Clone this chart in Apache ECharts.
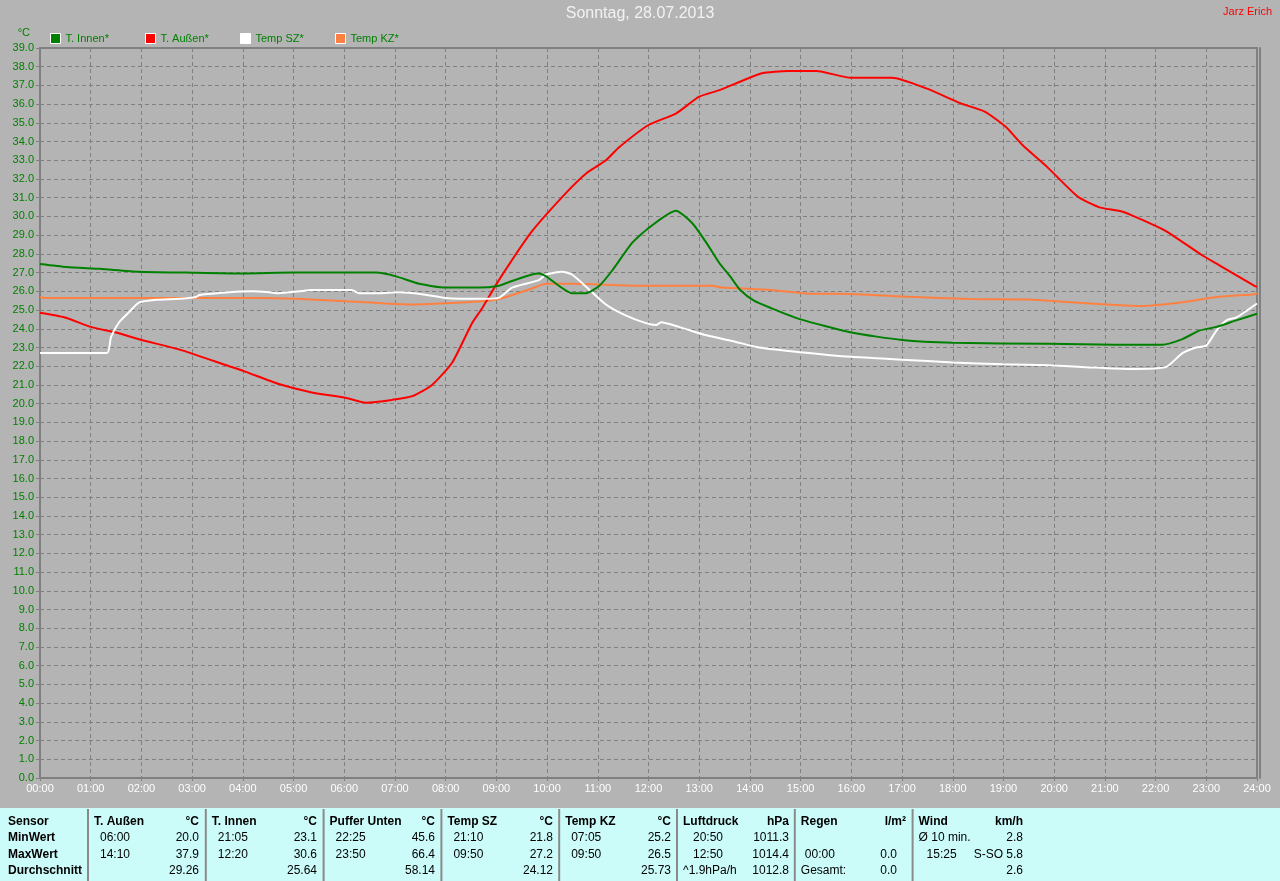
<!DOCTYPE html>
<html>
<head>
<meta charset="utf-8">
<script src="https://cdn.jsdelivr.net/npm/echarts@6/dist/echarts.min.js"></script>
<style>
html,body{margin:0;padding:0;background:#b4b4b4;}
#chart{width:1280px;height:881px;}
</style>
</head>
<body>
<div id="chart"></div>
<script>
// ---- chart data (hours of day, °C) ----
const seriesNames = ['T. Innen*', 'T. Außen*', 'Temp SZ*', 'Temp KZ*'];
const seriesColors = ['#008000', '#ff0000', '#ffffff', '#ff8040'];

const innenTimes = [0,0.52,1.18,1.95,2.88,4.0,5.0,6.63,7.02,7.48,8.0,8.66,9.05,9.25,9.70,9.84,9.98,10.49,10.77,11.03,11.28,11.68,12.01,12.54,12.86,13.14,13.4,13.61,13.81,14.08,14.42,15,16,17,18,19.9,21.2,22.13,22.53,22.86,23.2,23.59,24];
const innenTemps = [27.46,27.3,27.2,27.05,27.0,26.95,27.0,27.0,26.8,26.4,26.2,26.2,26.3,26.5,26.9,26.95,26.8,25.9,25.9,26.3,27.1,28.6,29.4,30.3,29.65,28.6,27.5,26.8,26.07,25.5,25.1,24.5,23.8,23.4,23.25,23.2,23.15,23.15,23.45,23.9,24.1,24.45,24.8];

const aussenTimes = [0,0.49,1,1.5,2,2.74,3.73,4.06,4.71,5.36,6.04,6.43,6.94,7.34,7.73,8.13,8.52,8.72,9.05,9.70,10.37,10.77,11.16,11.42,12.01,12.54,13.0,13.4,14.22,14.76,15.31,15.99,16.8,17.48,18.16,18.63,19.04,19.38,19.86,20.47,20.88,21.35,21.89,22.23,22.91,23.25,23.96,24];
const aussenTemps = [24.85,24.6,24.1,23.8,23.4,22.9,22.0,21.7,21.05,20.6,20.3,20.05,20.2,20.4,21.0,22.2,24.3,25.1,26.6,29.2,31.25,32.3,33.0,33.7,34.9,35.5,36.4,36.75,37.64,37.77,37.77,37.41,37.41,36.84,36.04,35.6,34.8,33.8,32.65,31.05,30.5,30.25,29.63,29.18,27.94,27.4,26.28,26.25];

const szTimes = [0,1.32,1.40,1.56,1.76,1.95,2.29,2.74,3.08,3.14,3.73,4.18,4.52,4.71,5.11,5.36,6.15,6.29,6.69,7.08,7.53,8.0,8.66,9.05,9.31,9.84,9.98,10.3,10.49,10.77,11.16,11.56,11.95,12.15,12.25,12.6,13.14,13.65,14.18,15,16,17,18,19,19.9,20.63,21.48,22.2,22.53,22.80,23.0,23.2,23.4,23.59,23.71,24];
const szTemps = [22.7,22.7,23.55,24.35,24.9,25.4,25.55,25.6,25.7,25.8,25.95,26.0,25.95,25.9,26.0,26.07,26.07,25.9,25.9,25.95,25.85,25.65,25.6,25.65,26.2,26.6,26.9,27.05,26.9,26.25,25.3,24.7,24.3,24.2,24.35,24.1,23.65,23.35,23.0,22.75,22.5,22.35,22.2,22.1,22.05,21.95,21.85,21.95,22.7,23.0,23.1,23.9,24.45,24.6,24.8,25.35];

const kzTimes = [0,0.1,2.94,4.38,5.05,6.23,6.82,7.34,7.87,8.86,9.19,9.70,9.98,10.49,11.81,13.25,13.45,14.42,15.1,16.12,17.14,18.36,19.52,20.19,21.21,21.69,22.37,23.25,23.96,24];
const kzTemps = [25.7,25.65,25.65,25.65,25.6,25.45,25.35,25.3,25.35,25.5,25.7,26.15,26.4,26.4,26.3,26.3,26.2,26.07,25.89,25.85,25.71,25.59,25.57,25.44,25.27,25.21,25.36,25.71,25.85,25.9];

// ---- statistics table ----
const rowLabels = ['Sensor', 'MinWert', 'MaxWert', 'Durchschnitt'];
const colHeads  = ['T. Außen', 'T. Innen', 'Puffer Unten', 'Temp SZ', 'Temp KZ', 'Luftdruck', 'Regen', 'Wind'];
const colUnits  = ['°C', '°C', '°C', '°C', '°C', 'hPa', 'l/m²', 'km/h'];
const minLabels = ['06:00', '21:05', '22:25', '21:10', '07:05', '20:50', '', 'Ø 10 min.'];
const minValues = ['20.0', '23.1', '45.6', '21.8', '25.2', '1011.3', '', '2.8'];
const maxLabels = ['14:10', '12:20', '23:50', '09:50', '09:50', '12:50', '00:00', '15:25'];
const maxValues = ['37.9', '30.6', '66.4', '27.2', '26.5', '1014.4', '0.0', 'S-SO 5.8'];
const avgLabels = ['', '', '', '', '', '^1.9hPa/h', 'Gesamt:', ''];
const avgValues = ['29.26', '25.64', '58.14', '24.12', '25.73', '1012.8', '0.0', '2.6'];

const FONT = '"Liberation Sans", Arial, sans-serif';
const pair = (ts, vs) => ts.map((t, i) => [t, vs[i]]);
const seriesData = [pair(innenTimes, innenTemps), pair(aussenTimes, aussenTemps), pair(szTimes, szTemps), pair(kzTimes, kzTemps)];

// table graphics
const tableEls = [];
tableEls.push({type:'rect', shape:{x:0, y:808, width:1280, height:73}, style:{fill:'#ccfcfa'}, silent:true});
const divX = colHeads.map((_, i) => 88 + i * 117.8);
const rowY = [822, 838, 855, 871];
divX.forEach(x => {
  tableEls.push({type:'line', shape:{x1:x, y1:809, x2:x, y2:881}, style:{stroke:'#8a8a8a', lineWidth:2}, silent:true});
});
const txt = (x, y, s, bold, align) => ({type:'text', x:x, y:y, silent:true,
  style:{text:s, fill:'#000', font:(bold ? 'bold ' : '') + '12px ' + FONT, textAlign:align || 'left', textVerticalAlign:'middle'}});
rowLabels.forEach((s, r) => tableEls.push(txt(8, rowY[r], s, true)));
const timeOff = [12, 12, 12, 12, 12, 16, 10, 14];
const rightEdge = [199, 317, 435, 553, 671, 789, 897, 1023];
const unitRight = [199, 317, 435, 553, 671, 789, 906, 1023];
colHeads.forEach((h, i) => {
  const d = divX[i];
  const lx = s => /^\d\d:\d\d$/.test(s) ? d + timeOff[i] : d + 6;
  tableEls.push(txt(d + 6, rowY[0], h, true));
  tableEls.push(txt(unitRight[i], rowY[0], colUnits[i], true, 'right'));
  [[minLabels, minValues], [maxLabels, maxValues], [avgLabels, avgValues]].forEach((p, k) => {
    const L = p[0][i], V = p[1][i];
    if (L) tableEls.push(txt(lx(L), rowY[k + 1], L, false));
    if (V) tableEls.push(txt(rightEdge[i], rowY[k + 1], V, false, 'right'));
  });
});

const chart = echarts.init(document.getElementById('chart'), null, {renderer:'canvas'});
const gridLine = {show:true, lineStyle:{color:'#808080', type:[4, 3], width:1}};
const option = {
  backgroundColor:'#b4b4b4',
  animation:false,
  title:[
    {text:'Sonntag, 28.07.2013', left:'center', top:6, padding:0,
     textStyle:{color:'#f2f2f2', fontSize:16, fontWeight:'normal', fontFamily:FONT}},
    {text:'Jarz Erich', right:8, top:6, padding:0,
     textStyle:{color:'#ff0000', fontSize:11, fontWeight:'normal', fontFamily:FONT}}
  ],
  legend: seriesNames.map((n, i) => ({
    data:[n], left:50 + 95 * i, top:33, padding:0, itemWidth:10, itemHeight:10, itemGap:0,
    icon:'rect', selectedMode:false,
    itemStyle:{borderColor:'#ffffff', borderWidth:1},
    textStyle:{color:'#008000', fontSize:11, fontFamily:FONT}
  })),
  grid:{left:40, right:23, top:48, bottom:103, show:true, borderColor:'#808080', borderWidth:2, backgroundColor:'transparent'},
  xAxis:{
    type:'value', min:0, max:24, interval:1,
    axisLine:{show:true, lineStyle:{color:'#808080', width:2}},
    axisTick:{show:true, length:3, lineStyle:{color:'#808080'}},
    axisLabel:{color:'#ffffff', fontSize:11, fontFamily:FONT, margin:5,
      formatter:v => String(v).padStart(2, '0') + ':00'},
    splitLine:gridLine
  },
  yAxis:[{
    type:'value', min:0, max:39, interval:1,
    name:'°C', nameLocation:'end', nameGap:10,
    nameTextStyle:{color:'#008000', fontSize:11, fontFamily:FONT, align:'right', padding:[0, 10, 0, 0]},
    axisLine:{show:true, lineStyle:{color:'#808080', width:2}},
    axisTick:{show:true, length:4, lineStyle:{color:'#808080'}},
    axisLabel:{color:'#008000', fontSize:11, fontFamily:FONT, margin:6, formatter:v => v.toFixed(1)},
    splitLine:gridLine
  }, {
    type:'value', min:0, max:39, position:'right', offset:3,
    axisLine:{show:true, lineStyle:{color:'#808080', width:2}},
    axisTick:{show:false}, axisLabel:{show:false}, splitLine:{show:false}
  }],
  series: [3, 1, 2, 0].map(i => ({
    name:seriesNames[i], type:'line', data:seriesData[i], showSymbol:false, symbol:'none',
    smooth:0.2,
    color:seriesColors[i], lineStyle:{color:seriesColors[i], width:2}, z:2
  })),
  graphic:tableEls
};
chart.setOption(option);
</script>
</body>
</html>
